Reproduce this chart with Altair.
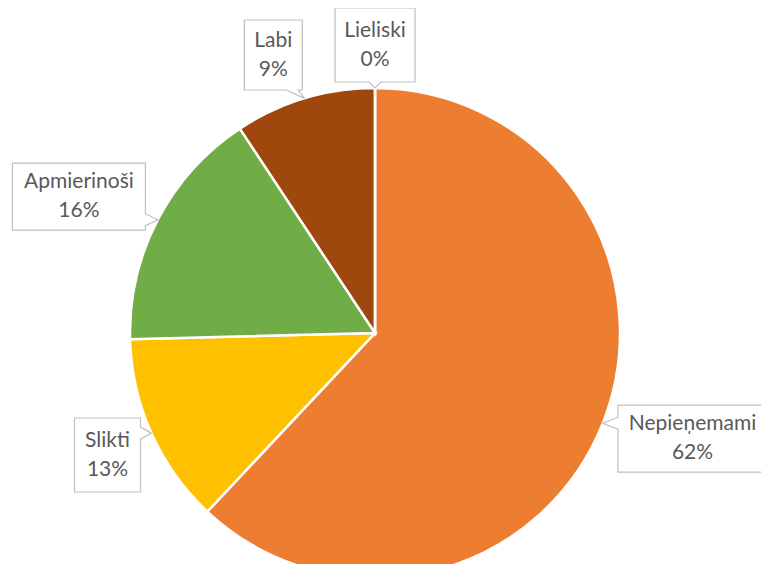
import altair as alt
import pandas as pd
import numpy as np

# ---- data ----
categories = ["Nepieņemami", "Slikti", "Apmierinoši", "Labi", "Lieliski"]
values = [62.0, 12.6, 16.1, 9.3, 0.0]
colors = ["#ED7D31", "#FFC000", "#70AD47", "#9E480E", "#A5A5A5"]

# ---- layout ----
W, H = 753, 556
CX, CY = 367, 325
R = 245
label_r = [334.6, 294, 326, 296, 288]
label_dtheta = [-3.2, -0.4, -2.8, -3.35, 0.0]
box_w = [149, 66, 133, 58, 80]
box_h = [67, 74, 67, 70, 74]
PTR = 6
LH = 29

total = sum(values)
starts = np.cumsum([0.0] + values[:-1])
mids = [(starts[i] + values[i] / 2) / total * 360 for i in range(len(values))]
pct = [f"{round(v / total * 100)}%" for v in values]

pie_df = pd.DataFrame({"cat": categories, "value": values, "idx": range(len(values))})

text_rows, box_rows, outline_rows = [], [], []
for i, c in enumerate(categories):
    a = np.radians(mids[i] + label_dtheta[i])
    lx = CX + label_r[i] * np.sin(a)
    ly = CY - label_r[i] * np.cos(a)
    am = np.radians(mids[i])
    tx = CX + R * np.sin(am)
    ty = CY - R * np.cos(am)
    x0, x1 = lx - box_w[i] / 2, lx + box_w[i] / 2
    y0, y1 = ly - box_h[i] / 2, ly + box_h[i] / 2
    text_rows.append({"cat": c, "x": lx, "y": ly, "t": f"{c}\n{pct[i]}"})
    box_rows.append({"cat": c, "x": x0, "x2": x1, "y": y0, "y2": y1})
    if ty > y1:
        bc = min(max(tx, x0 + 10), x1 - 10)
        pts = [(x0, y0), (x1, y0), (x1, y1), (bc + PTR, y1), (tx, ty), (bc - PTR, y1), (x0, y1), (x0, y0)]
    elif ty < y0:
        bc = min(max(tx, x0 + 10), x1 - 10)
        pts = [(x0, y0), (bc - PTR, y0), (tx, ty), (bc + PTR, y0), (x1, y0), (x1, y1), (x0, y1), (x0, y0)]
    elif tx < x0:
        bc = min(max(ty, y0 + 10), y1 - 10)
        pts = [(x0, y0), (x1, y0), (x1, y1), (x0, y1), (x0, bc + PTR), (tx, ty), (x0, bc - PTR), (x0, y0)]
    else:
        bc = min(max(ty, y0 + 10), y1 - 10)
        pts = [(x0, y0), (x1, y0), (x1, bc - PTR), (tx, ty), (x1, bc + PTR), (x1, y1), (x0, y1), (x0, y0)]
    for k, (px, py) in enumerate(pts):
        outline_rows.append({"cat": c, "k": k, "x": px, "y": py})

text_df = pd.DataFrame(text_rows)
box_df = pd.DataFrame(box_rows)
outline_df = pd.DataFrame(outline_rows)

pie = alt.Chart(pie_df).mark_arc(radius=R, stroke="white", strokeWidth=2.5).encode(
    theta=alt.Theta("value:Q", stack=True),
    color=alt.Color("cat:N", scale=alt.Scale(domain=categories, range=colors), legend=None),
    order=alt.Order("idx:Q", sort="ascending"),
    x=alt.value(CX),
    y=alt.value(CY),
)

boxes = alt.Chart(box_df).mark_rect(fill="white", strokeWidth=0).encode(
    x=alt.X("x:Q", scale=None, axis=None),
    x2="x2:Q",
    y=alt.Y("y:Q", scale=None, axis=None),
    y2="y2:Q",
)

outline = alt.Chart(outline_df).mark_line(color="#BFBFBF", strokeWidth=1.2).encode(
    x=alt.X("x:Q", scale=None, axis=None),
    y=alt.Y("y:Q", scale=None, axis=None),
    detail="cat:N",
    order=alt.Order("k:Q"),
)

labels = alt.Chart(text_df).mark_text(
    font="Lato", fontSize=21, color="#595959", lineBreak="\n", lineHeight=LH,
    align="center", baseline="middle", dy=-LH / 2,
).encode(
    x=alt.X("x:Q", scale=None, axis=None),
    y=alt.Y("y:Q", scale=None, axis=None),
    text="t:N",
)

chart = alt.layer(pie, boxes, outline, labels).properties(
    width=W, height=H, padding=0, autosize=alt.AutoSizeParams(type="none"),
    background="white",
).configure_view(stroke=None)

chart.save("out.html", embed_options={"renderer": "svg", "actions": False})
